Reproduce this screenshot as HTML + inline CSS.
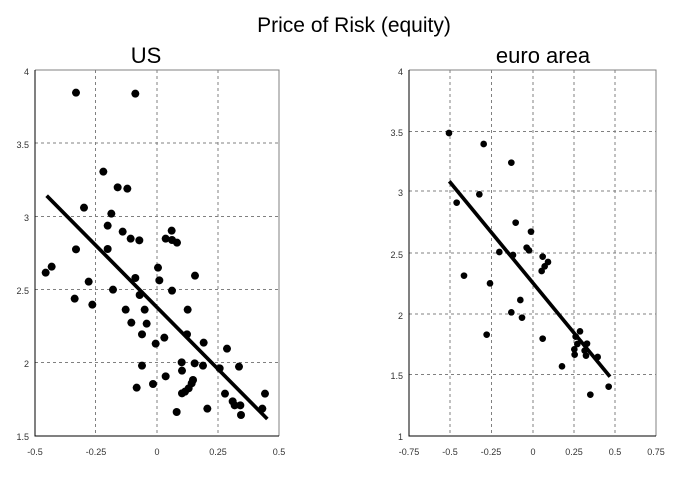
<!DOCTYPE html>
<html><head><meta charset="utf-8"><style>body{margin:0;background:#fff}svg{display:block}</style></head><body>
<svg width="676" height="481" viewBox="0 0 676 481" xmlns="http://www.w3.org/2000/svg" font-family="Liberation Sans, sans-serif">
<rect width="676" height="481" fill="#fff"/>
<text x="354" y="32" font-size="21" text-anchor="middle">Price of Risk (equity)</text>
<text x="146" y="63" font-size="22" text-anchor="middle">US</text>
<text x="543" y="63" font-size="22" text-anchor="middle">euro area</text>
<!-- left chart -->
<g stroke="#808080" stroke-dasharray="3,3" stroke-width="1">
<line x1="35" y1="143" x2="279" y2="143"/><line x1="35" y1="216.5" x2="279" y2="216.5"/><line x1="35" y1="289.5" x2="279" y2="289.5"/><line x1="35" y1="362.5" x2="279" y2="362.5"/>
<line x1="95.5" y1="70" x2="95.5" y2="436"/><line x1="157" y1="70" x2="157" y2="436"/><line x1="218" y1="70" x2="218" y2="436"/>
</g>
<path d="M35 70H279V436" fill="none" stroke="#808080"/>
<path d="M35 70V436H279" fill="none" stroke="#000"/>
<g font-size="9" fill="#333" text-anchor="end">
<text x="29" y="75">4</text><text x="29" y="148">3.5</text><text x="29" y="221">3</text><text x="29" y="294">2.5</text><text x="29" y="367">2</text><text x="29" y="440">1.5</text>
</g>
<g font-size="9" fill="#333" text-anchor="middle">
<text x="35" y="455">-0.5</text><text x="96" y="455">-0.25</text><text x="157" y="455">0</text><text x="218" y="455">0.25</text><text x="279" y="455">0.5</text>
</g>
<g transform="translate(0,60) scale(0.33333)">
<g fill="#000">
<circle cx="228" cy="98" r="12"/><circle cx="406" cy="101" r="12"/><circle cx="310" cy="335" r="12"/><circle cx="353" cy="382" r="12"/><circle cx="382" cy="386" r="12"/><circle cx="252" cy="443" r="12"/><circle cx="334" cy="461" r="12"/><circle cx="323" cy="497" r="12"/><circle cx="368" cy="515" r="12"/><circle cx="392" cy="536" r="12"/><circle cx="418" cy="541" r="12"/><circle cx="515" cy="512" r="12"/><circle cx="497" cy="536" r="12"/><circle cx="516" cy="540" r="12"/><circle cx="531" cy="548" r="12"/><circle cx="228" cy="568" r="12"/><circle cx="323" cy="567" r="12"/><circle cx="155" cy="620" r="12"/><circle cx="137" cy="638" r="12"/><circle cx="266" cy="665" r="12"/><circle cx="339" cy="689" r="12"/><circle cx="406" cy="654" r="12"/><circle cx="474" cy="623" r="12"/><circle cx="478" cy="661" r="12"/><circle cx="516" cy="692" r="12"/><circle cx="585" cy="647" r="12"/><circle cx="224" cy="716" r="12"/><circle cx="277" cy="734" r="12"/><circle cx="377" cy="749" r="12"/><circle cx="419" cy="705" r="12"/><circle cx="434" cy="749" r="12"/><circle cx="563" cy="749" r="12"/><circle cx="394" cy="788" r="12"/><circle cx="440" cy="791" r="12"/><circle cx="426" cy="823" r="12"/><circle cx="493" cy="833" r="12"/><circle cx="467" cy="851" r="12"/><circle cx="561" cy="823" r="12"/><circle cx="611" cy="848" r="12"/><circle cx="681" cy="866" r="12"/><circle cx="426" cy="917" r="12"/><circle cx="545" cy="907" r="12"/><circle cx="546" cy="932" r="12"/><circle cx="584" cy="910" r="12"/><circle cx="609" cy="917" r="12"/><circle cx="717" cy="920" r="12"/><circle cx="659" cy="925" r="12"/><circle cx="410" cy="983" r="12"/><circle cx="459" cy="972" r="12"/><circle cx="497" cy="949" r="12"/><circle cx="579" cy="960" r="12"/><circle cx="575" cy="970" r="12"/><circle cx="566" cy="985" r="12"/><circle cx="555" cy="995" r="12"/><circle cx="546" cy="1000" r="12"/><circle cx="675" cy="1001" r="12"/><circle cx="795" cy="1001" r="12"/><circle cx="698" cy="1024" r="12"/><circle cx="704" cy="1036" r="12"/><circle cx="721" cy="1036" r="12"/><circle cx="530" cy="1056" r="12"/><circle cx="622" cy="1046" r="12"/><circle cx="787" cy="1046" r="12"/><circle cx="723" cy="1065" r="12"/>
</g>
<line x1="140" y1="407" x2="802" y2="1077" stroke="#000" stroke-width="11"/>
</g>
<!-- right chart -->
<g stroke="#808080" stroke-dasharray="3,3" stroke-width="1">
<line x1="409" y1="131.5" x2="656" y2="131.5"/><line x1="409" y1="191" x2="656" y2="191"/><line x1="409" y1="253" x2="656" y2="253"/><line x1="409" y1="314" x2="656" y2="314"/><line x1="409" y1="374.5" x2="656" y2="374.5"/>
<line x1="450" y1="70" x2="450" y2="436"/><line x1="491.5" y1="70" x2="491.5" y2="436"/><line x1="533" y1="70" x2="533" y2="436"/><line x1="574" y1="70" x2="574" y2="436"/><line x1="615" y1="70" x2="615" y2="436"/>
</g>
<path d="M409 70H656V436" fill="none" stroke="#808080"/>
<path d="M409 70V436H656" fill="none" stroke="#000"/>
<g font-size="9" fill="#333" text-anchor="end">
<text x="403" y="75">4</text><text x="403" y="136">3.5</text><text x="403" y="196">3</text><text x="403" y="258">2.5</text><text x="403" y="319">2</text><text x="403" y="379">1.5</text><text x="403" y="440">1</text>
</g>
<g font-size="9" fill="#333" text-anchor="middle">
<text x="409" y="455">-0.75</text><text x="450" y="455">-0.5</text><text x="491" y="455">-0.25</text><text x="533" y="455">0</text><text x="574" y="455">0.25</text><text x="615" y="455">0.5</text><text x="656" y="455">0.75</text>
</g>
<g transform="translate(370,60) scale(0.33333)">
<g fill="#000">
<circle cx="237" cy="219" r="10"/><circle cx="341" cy="252" r="10"/><circle cx="424" cy="308" r="10"/><circle cx="328" cy="403" r="10"/><circle cx="260" cy="428" r="10"/><circle cx="437" cy="488" r="10"/><circle cx="483" cy="515" r="10"/><circle cx="470" cy="563" r="10"/><circle cx="477" cy="571" r="10"/><circle cx="388" cy="576" r="10"/><circle cx="429" cy="585" r="10"/><circle cx="518" cy="590" r="10"/><circle cx="534" cy="606" r="10"/><circle cx="524" cy="619" r="10"/><circle cx="515" cy="633" r="10"/><circle cx="282" cy="647" r="10"/><circle cx="360" cy="670" r="10"/><circle cx="451" cy="720" r="10"/><circle cx="424" cy="757" r="10"/><circle cx="456" cy="773" r="10"/><circle cx="350" cy="824" r="10"/><circle cx="518" cy="836" r="10"/><circle cx="630" cy="814" r="10"/><circle cx="617" cy="830" r="10"/><circle cx="622" cy="852" r="10"/><circle cx="651" cy="851" r="10"/><circle cx="613" cy="868" r="10"/><circle cx="644" cy="872" r="10"/><circle cx="648" cy="887" r="10"/><circle cx="683" cy="891" r="10"/><circle cx="614" cy="884" r="10"/><circle cx="576" cy="919" r="10"/><circle cx="716" cy="980" r="10"/><circle cx="661" cy="1004" r="10"/>
</g>
<line x1="238" y1="364" x2="720" y2="950" stroke="#000" stroke-width="11"/>
</g>
</svg>
</body></html>
